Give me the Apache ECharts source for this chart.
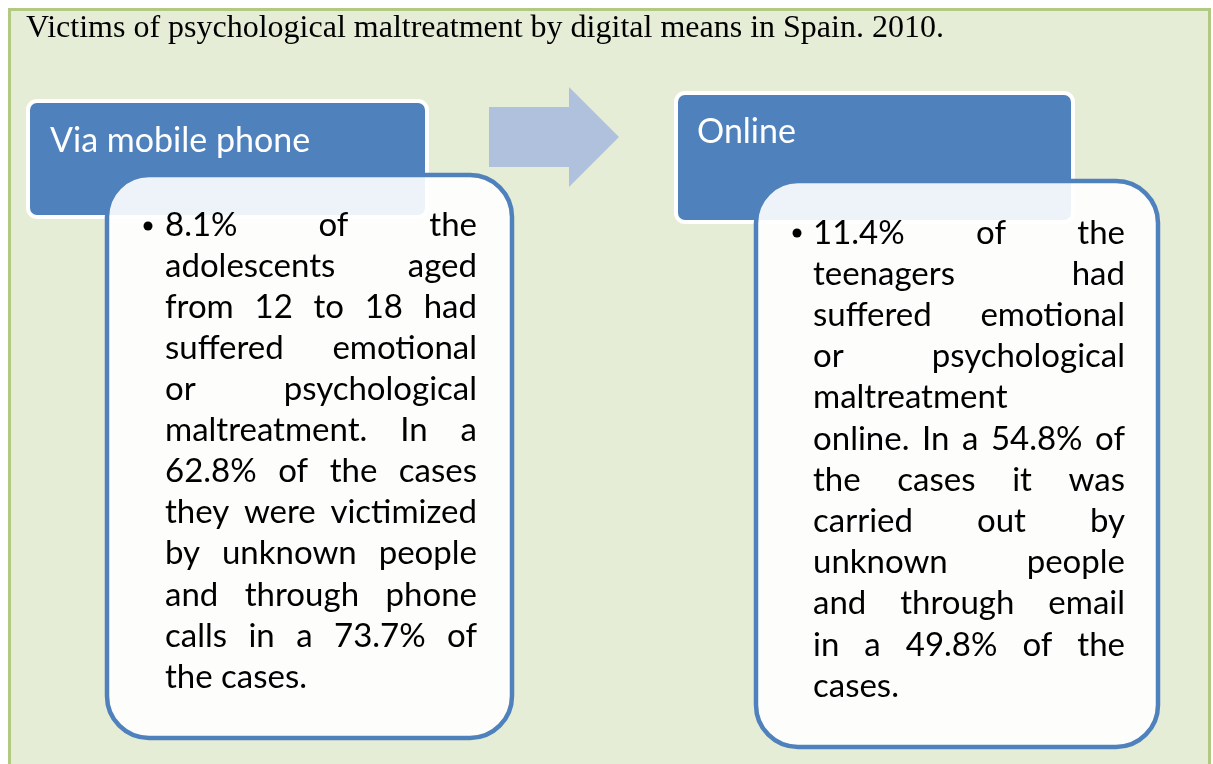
<!DOCTYPE html>
<html>
<head>
<meta charset="utf-8">
<script src="https://cdn.jsdelivr.net/npm/echarts@6/dist/echarts.min.js"></script>
<style>
html, body { margin: 0; padding: 0; background: #ffffff; }
#chart { width: 1213px; height: 764px; }
</style>
</head>
<body>
<div id="chart"></div>
<script>
var titleText = "Victims of psychological maltreatment by digital means in Spain. 2010.";
var headerLabels = ["Via mobile phone", "Online"];

var mobileLines = [
    "8.1% of the",
    "adolescents aged",
    "from 12 to 18 had",
    "suffered emotional",
    "or psychological",
    "maltreatment. In a",
    "62.8% of the cases",
    "they were victimized",
    "by unknown people",
    "and through phone",
    "calls in a 73.7% of",
    "the cases."
];
var mobileRagged = [11];

var onlineLines = [
    "11.4% of the",
    "teenagers had",
    "suffered emotional",
    "or psychological",
    "maltreatment",
    "online. In a 54.8% of",
    "the cases it was",
    "carried out by",
    "unknown people",
    "and through email",
    "in a 49.8% of the",
    "cases."
];
var onlineRagged = [4, 11];

var BLUE = '#4f81bd';
var BODY_FONT = '33px Lato';

var measureCtx = document.createElement('canvas').getContext('2d');
function textWidth(str, font) {
    measureCtx.font = font;
    return measureCtx.measureText(str).width;
}

// lay out one paragraph, word by word, justified like the original
function paragraph(lines, ragged, left, right, top, step) {
    var out = [];
    for (var i = 0; i < lines.length; i++) {
        var words = lines[i].split(' ');
        var y = top + i * step;
        var gap = textWidth(' ', BODY_FONT);
        if (ragged.indexOf(i) < 0 && words.length > 1) {
            var sum = 0;
            for (var w = 0; w < words.length; w++) sum += textWidth(words[w], BODY_FONT);
            gap = Math.max(3, (right - left - sum) / (words.length - 1));
        }
        var x = left;
        for (var w = 0; w < words.length; w++) {
            out.push({
                type: 'text',
                z: 10,
                style: {
                    text: words[w], x: x, y: y,
                    font: BODY_FONT, fill: '#000000',
                    textVerticalAlign: 'middle'
                }
            });
            x += textWidth(words[w], BODY_FONT) + gap;
        }
    }
    return out;
}

function headerBox(x, y, w, h, label, tx, ty) {
    return [{
        type: 'rect', z: 2,
        shape: { x: x, y: y, width: w, height: h, r: 9 },
        style: { fill: BLUE, stroke: '#ffffff', lineWidth: 4 }
    }, {
        type: 'text', z: 3,
        style: {
            text: label, x: tx, y: ty,
            font: '34px Lato', fill: '#ffffff',
            textVerticalAlign: 'middle'
        }
    }];
}

function bodyBox(x, y, w, h) {
    return {
        type: 'rect', z: 5,
        shape: { x: x, y: y, width: w, height: h, r: 42 },
        style: { fill: 'rgba(255,255,255,0.9)', stroke: BLUE, lineWidth: 4.5 }
    };
}

var chart = echarts.init(document.getElementById('chart'));

var elements = [
    // green frame
    {
        type: 'rect', z: 0,
        shape: { x: 9.5, y: 9.5, width: 1200, height: 800 },
        style: { fill: '#e6edd6', stroke: '#b1c982', lineWidth: 3 }
    },
    {
        type: 'text', z: 1,
        style: {
            text: titleText, x: 26, y: 29,
            font: '32px "Liberation Serif"', fill: '#000000',
            textVerticalAlign: 'middle'
        }
    },
    // arrow
    {
        type: 'polygon', z: 1,
        shape: {
            points: [[489, 107], [569, 107], [569, 87], [619, 137],
                     [569, 187], [569, 167], [489, 167]]
        },
        style: { fill: '#b0c1dd' }
    },
    bodyBox(107, 175, 405, 563),
    bodyBox(756, 181, 402, 566),
    { type: 'circle', z: 10, shape: { cx: 148, cy: 226, r: 4.5 }, style: { fill: '#000' } },
    { type: 'circle', z: 10, shape: { cx: 797, cy: 233, r: 4.5 }, style: { fill: '#000' } }
];

elements = elements
    .concat(headerBox(28, 101, 399, 116, headerLabels[0], 50, 141))
    .concat(headerBox(676, 93, 397, 129, headerLabels[1], 697, 132))
    .concat(paragraph(mobileLines, mobileRagged, 165, 477, 225, 41.1))
    .concat(paragraph(onlineLines, onlineRagged, 813, 1125, 233, 41.2));

chart.setOption({
    animation: false,
    graphic: { elements: elements }
});
</script>
</body>
</html>
